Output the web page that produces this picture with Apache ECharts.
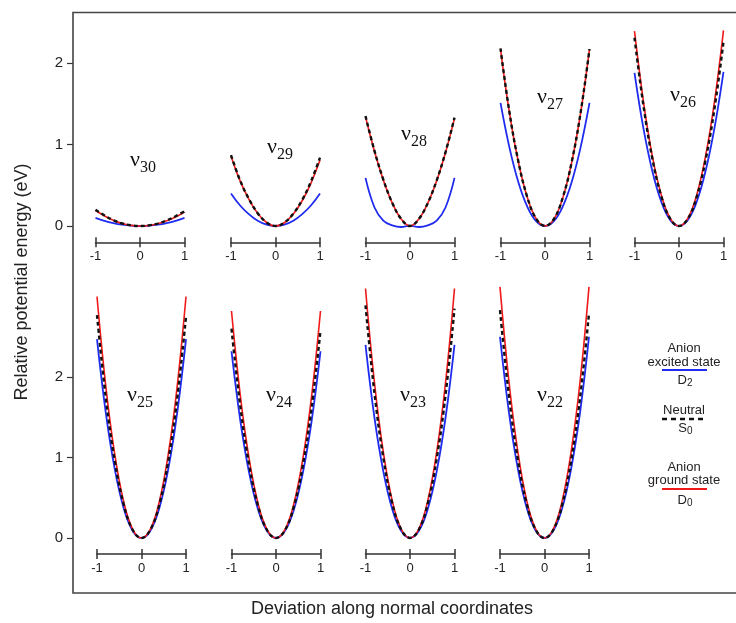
<!DOCTYPE html>
<html>
<head>
<meta charset="utf-8">
<script src="https://cdn.jsdelivr.net/npm/echarts/dist/echarts.min.js"></script>
<style>
  html, body { margin: 0; padding: 0; background: #fff; }
  #main { width: 736px; height: 623px; }
</style>
</head>
<body>
<div id="main"></div>
<script>
// displacement along the normal coordinate
var xs = [-1, -0.8, -0.6, -0.4, -0.2, 0, 0.2, 0.4, 0.6, 0.8, 1];

var modes = ['30', '29', '28', '27', '26', '25', '24', '23', '22'];

// anion ground state D0 (red)
var D0 = [
  [0.19, 0.125, 0.07, 0.03, 0.008, 0, 0.007, 0.027, 0.063, 0.11, 0.17],
  [0.86, 0.56, 0.33, 0.155, 0.043, 0, 0.04, 0.146, 0.31, 0.53, 0.81],
  [1.34, 0.92, 0.565, 0.283, 0.087, 0, 0.086, 0.28, 0.555, 0.905, 1.32],
  [2.17, 1.39, 0.79, 0.355, 0.09, 0.002, 0.085, 0.345, 0.78, 1.385, 2.17],
  [2.39, 1.53, 0.86, 0.385, 0.096, 0, 0.096, 0.385, 0.865, 1.535, 2.40],
  [3.0, 1.875, 1.035, 0.45, 0.111, 0, 0.111, 0.45, 1.035, 1.875, 3.0],
  [2.82, 1.763, 0.973, 0.423, 0.104, 0, 0.104, 0.423, 0.973, 1.763, 2.82],
  [3.10, 1.938, 1.07, 0.465, 0.115, 0, 0.115, 0.465, 1.07, 1.938, 3.10],
  [3.12, 1.95, 1.076, 0.468, 0.115, 0, 0.115, 0.468, 1.076, 1.95, 3.12]
];

// neutral S0 (black dashed)
var S0 = [
  [0.20, 0.13, 0.072, 0.031, 0.008, 0, 0.008, 0.03, 0.068, 0.12, 0.18],
  [0.87, 0.565, 0.335, 0.157, 0.044, 0, 0.042, 0.151, 0.32, 0.55, 0.84],
  [1.35, 0.925, 0.57, 0.285, 0.088, 0, 0.087, 0.282, 0.56, 0.91, 1.33],
  [2.18, 1.40, 0.795, 0.357, 0.09, 0.002, 0.086, 0.35, 0.785, 1.39, 2.17],
  [2.31, 1.48, 0.83, 0.37, 0.092, 0, 0.09, 0.362, 0.815, 1.45, 2.26],
  [2.77, 1.73, 0.955, 0.415, 0.102, 0, 0.102, 0.413, 0.95, 1.72, 2.75],
  [2.60, 1.625, 0.897, 0.39, 0.096, 0, 0.095, 0.387, 0.89, 1.613, 2.58],
  [2.89, 1.806, 0.997, 0.434, 0.107, 0, 0.105, 0.428, 0.983, 1.78, 2.85],
  [2.83, 1.77, 0.976, 0.425, 0.105, 0, 0.103, 0.419, 0.963, 1.745, 2.79]
];

// anion excited state D2 (blue)
var D2 = [
  [0.10, 0.064, 0.036, 0.016, 0.004, 0, 0.004, 0.016, 0.036, 0.064, 0.10],
  [0.40, 0.255, 0.145, 0.064, 0.016, 0, 0.016, 0.064, 0.145, 0.255, 0.40],
  [0.59, 0.23, 0.065, 0.008, -0.012, 0.004, -0.012, 0.008, 0.065, 0.23, 0.59],
  [1.51, 0.965, 0.54, 0.24, 0.06, 0, 0.06, 0.24, 0.54, 0.965, 1.51],
  [1.88, 1.20, 0.675, 0.30, 0.075, 0, 0.075, 0.30, 0.68, 1.21, 1.89],
  [2.47, 1.545, 0.852, 0.37, 0.091, 0, 0.091, 0.37, 0.852, 1.545, 2.47],
  [2.32, 1.45, 0.80, 0.348, 0.086, 0, 0.086, 0.348, 0.80, 1.45, 2.32],
  [2.40, 1.50, 0.828, 0.36, 0.089, 0, 0.089, 0.36, 0.828, 1.50, 2.40],
  [2.50, 1.563, 0.863, 0.375, 0.093, 0, 0.093, 0.375, 0.863, 1.563, 2.50]
];

var energyTicks = [0, 1, 2];

var sans = '"Liberation Sans", Arial, sans-serif';
var serif = '"Liberation Serif", "Times New Roman", serif';

// panel layout (pixel centres of the little x axes)
var centers = [140, 275.5, 410, 545, 679, 141.5, 276, 410, 544.5];
var labelPos = [[140, 163], [277, 150], [411, 137], [547, 100], [680, 98],
                [137, 398], [276, 398], [410, 398], [547, 398]];

var grids = [], xAxes = [], yAxes = [], series = [], graphics = [];

// left energy axes, one for each row
[[63, 163], [377, 161]].forEach(function (g, k) {
  grids.push({ left: 73, top: g[0], width: 10, height: g[1] });
  xAxes.push({ gridIndex: k, show: false, min: 0, max: 1 });
  yAxes.push({
    gridIndex: k, type: 'value', min: 0, max: 2, interval: 1,
    axisLine: { show: false },
    axisTick: { show: true, length: 6, lineStyle: { color: '#333', width: 1.2 } },
    axisLabel: { fontSize: 15, fontFamily: sans, color: '#222', margin: 10,
      formatter: function (v) { return energyTicks.indexOf(v) >= 0 ? String(v) : ''; } },
    splitLine: { show: false }
  });
});

modes.forEach(function (m, i) {
  var top = i < 5;
  var scale = top ? 81.5 : 80.5;
  var zero = top ? 226 : 538;
  var ymin = -0.2, ymax = top ? 2.6 : 3.4;
  var bottomPx = zero - ymin * scale;
  var h = (ymax - ymin) * scale;
  var gi = grids.length;
  grids.push({ left: centers[i] - 44.5, width: 89, top: bottomPx - h, height: h });
  var axCommon = { gridIndex: gi, type: 'value', min: -1, max: 1, interval: 1, position: 'bottom',
    splitLine: { show: false } };
  xAxes.push(Object.assign({}, axCommon, {
    axisLine: { show: true, onZero: false, lineStyle: { color: '#333', width: 1.5 } },
    axisTick: { show: true, length: 5, lineStyle: { color: '#333', width: 1.5 } },
    axisLabel: { fontSize: 13, fontFamily: sans, color: '#222', margin: 8 }
  }));
  var xi = xAxes.length - 1;
  xAxes.push(Object.assign({}, axCommon, {
    axisLine: { show: false, onZero: false },
    axisTick: { show: true, inside: true, length: 5, lineStyle: { color: '#333', width: 1.5 } },
    axisLabel: { show: false }
  }));
  var yi = yAxes.length;
  yAxes.push({ gridIndex: gi, type: 'value', min: ymin, max: ymax, show: false });

  function pts(arr) { return xs.map(function (x, j) { return [x, arr[j]]; }); }
  series.push({ type: 'line', xAxisIndex: xi, yAxisIndex: yi, data: pts(D2[i]), smooth: 0.4,
    showSymbol: false, clip: false, z: 2, lineStyle: { color: '#1f2cf0', width: 1.8 } });
  series.push({ type: 'line', xAxisIndex: xi, yAxisIndex: yi, data: pts(D0[i]), smooth: 0.4,
    showSymbol: false, clip: false, z: 3, lineStyle: { color: '#f01a1a', width: 1.6 } });
  series.push({ type: 'line', xAxisIndex: xi, yAxisIndex: yi, data: pts(S0[i]), smooth: 0.4,
    showSymbol: false, clip: false, z: 4, lineStyle: { color: '#111', width: 2.4, type: [4, 3] } });

  // mode label  ν with subscript
  var lp = labelPos[i];
  graphics.push({ type: 'text', style: { text: 'ν', x: lp[0], y: lp[1] - 3,
    font: '22px ' + serif, fill: '#111', textAlign: 'right', textVerticalAlign: 'middle' } });
  graphics.push({ type: 'text', style: { text: m, x: lp[0], y: lp[1] + 5,
    font: '16px ' + serif, fill: '#111', textAlign: 'left', textVerticalAlign: 'middle' } });
});

// frame (open on the right)
graphics.push({ type: 'polyline', shape: { points: [[745, 12.5], [73, 12.5], [73, 593], [745, 593]] },
  style: { stroke: '#444', lineWidth: 1.6, fill: null }, z: 1 });

// axis titles
graphics.push({ type: 'text', x: 22, y: 282, rotation: Math.PI / 2,
  style: { text: 'Relative potential energy (eV)', x: 0, y: 0, font: '18px ' + sans, fill: '#222',
    textAlign: 'center', textVerticalAlign: 'middle' } });
graphics.push({ type: 'text', style: { text: 'Deviation along normal coordinates', x: 392, y: 609,
  font: '18px ' + sans, fill: '#222', textAlign: 'center', textVerticalAlign: 'middle' } });

// legend block
var lx = 684;
function ltext(t, y) {
  graphics.push({ type: 'text', style: { text: t, x: lx, y: y, font: '13px ' + sans, fill: '#222',
    textAlign: 'center', textVerticalAlign: 'middle' } });
}
function lsub(t, s, y) {
  graphics.push({ type: 'text', style: { text: t, x: lx + 3, y: y, font: '13px ' + sans, fill: '#222',
    textAlign: 'right', textVerticalAlign: 'middle' } });
  graphics.push({ type: 'text', style: { text: s, x: lx + 3, y: y + 3, font: '10px ' + sans, fill: '#222',
    textAlign: 'left', textVerticalAlign: 'middle' } });
}
function lline(y, color, dash) {
  graphics.push({ type: 'line', shape: { x1: 662, y1: y, x2: 707, y2: y },
    style: { stroke: color, lineWidth: dash ? 2.4 : 2, lineDash: dash || null } });
}
ltext('Anion', 348); ltext('excited state', 362); lline(370, '#1f2cf0'); lsub('D', '2', 380);
ltext('Neutral', 410); lline(419, '#111', [5, 4]); lsub('S', '0', 428);
ltext('Anion', 467); ltext('ground state', 480); lline(489, '#f01a1a'); lsub('D', '0', 500);

var myChart = echarts.init(document.getElementById('main'), null, { renderer: 'canvas' });
myChart.setOption({
  animation: false,
  grid: grids,
  xAxis: xAxes,
  yAxis: yAxes,
  series: series,
  graphic: graphics
});
</script>
</body>
</html>
